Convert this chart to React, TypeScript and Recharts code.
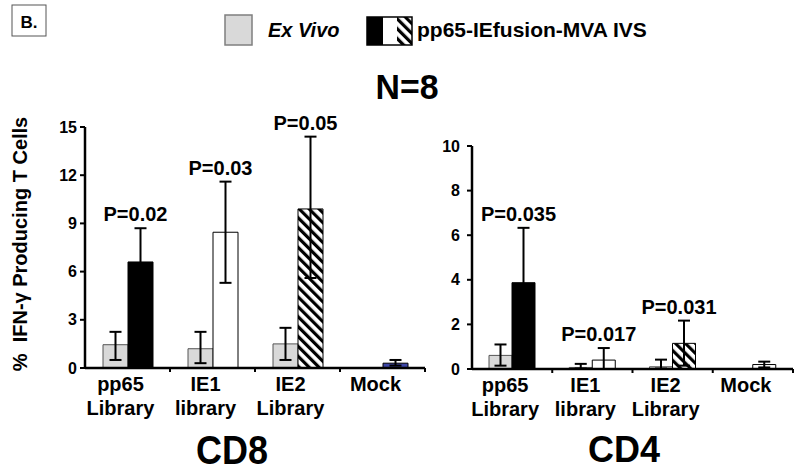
import React from 'react';
import { BarChart, Bar, XAxis, YAxis, ErrorBar, Cell, LabelList } from 'recharts';

const FONT = '"Liberation Sans", Arial, Helvetica, sans-serif';

// categories (two-line tick labels)
const catTop = ['pp65', 'IE1', 'IE2', 'Mock'];
const catBottom = ['Library', 'library', 'Library', ''];

// CD8 panel
const cd8ExVivo = [1.45, 1.2, 1.5, 0];
const cd8ExVivoLow = [0.5, 0.3, 0.5, 0];
const cd8ExVivoHigh = [2.25, 2.25, 2.5, 0];
const cd8Ivs = [6.6, 8.45, 9.9, 0.3];
const cd8IvsLow = [4.5, 5.3, 5.6, 0.15];
const cd8IvsHigh = [8.7, 11.6, 14.4, 0.5];
const cd8P = ['P=0.02', 'P=0.03', 'P=0.05', ''];
const cd8Ticks = [0, 3, 6, 9, 12, 15];

// CD4 panel
const cd4ExVivo = [0.61, 0.07, 0.1, 0];
const cd4ExVivoLow = [0.15, 0.02, 0.02, 0];
const cd4ExVivoHigh = [1.1, 0.23, 0.42, 0];
const cd4Ivs = [3.87, 0.4, 1.15, 0.2];
const cd4IvsLow = [1.4, 0, 0.15, 0.07];
const cd4IvsHigh = [6.33, 0.94, 2.17, 0.33];
const cd4P = ['P=0.035', 'P=0.017', 'P=0.031', ''];
const cd4Ticks = [0, 2, 4, 6, 8, 10];

const EX_FILL = '#d9d9d9';
const cd8IvsFills = ['#000000', '#ffffff', 'url(#hatch)', '#3d46a6'];
const cd4IvsFills = ['#000000', '#ffffff', 'url(#hatch)', '#ffffff'];

function buildRows(ex: number[], exLo: number[], exHi: number[], ivs: number[], ivLo: number[], ivHi: number[], p: string[]) {
    return catTop.map((c, i) => ({
        name: c,
        sub: catBottom[i],
        ex: ex[i],
        exErr: [ex[i] - exLo[i], exHi[i] - ex[i]],
        ivs: ivs[i],
        ivsErr: [ivs[i] - ivLo[i], ivHi[i] - ivs[i]],
        high: ivHi[i],
        p: p[i],
    }));
}

const cd8Rows = buildRows(cd8ExVivo, cd8ExVivoLow, cd8ExVivoHigh, cd8Ivs, cd8IvsLow, cd8IvsHigh, cd8P);
const cd4Rows = buildRows(cd4ExVivo, cd4ExVivoLow, cd4ExVivoHigh, cd4Ivs, cd4IvsLow, cd4IvsHigh, cd4P);

// two-line category label plus the small excel-style mark at the band's right edge
const CatTick = (props: any) => {
    const { x, y, payload, index, width, visibleTicksCount } = props;
    const sub = catBottom[index] ?? '';
    const half = width && visibleTicksCount ? width / visibleTicksCount / 2 : 0;
    const axisY = y - 8;
    return (
        <g>
            {half > 0 && <line x1={x + half} x2={x + half} y1={axisY} y2={axisY + 4} stroke="#000" strokeWidth={2} />}
            <text x={x - 7} y={y} textAnchor="middle" fontFamily={FONT} fontWeight="bold" fontSize={20} fill="#000">
                <tspan x={x - 7} dy={15}>{payload.value}</tspan>
                {sub && <tspan x={x - 7} dy={24}>{sub}</tspan>}
            </text>
        </g>
    );
};

// P value sits a few px above the top of the IVS error bar
const makePLabel = (rows: any[]) => (props: any) => {
    const vb = props.viewBox || props;
    const x = vb.x ?? props.x;
    const y = vb.y ?? props.y;
    const w = vb.width ?? props.width;
    const h = vb.height ?? props.height;
    const row = rows[props.index];
    if (!row || !row.p || !row.ivs) return null;
    const base = y + h;
    const top = base - row.high * (h / row.ivs);
    return (
        <text x={x + w / 2 - 5} y={top - 7} textAnchor="middle" fontFamily={FONT} fontWeight="bold" fontSize={20} fill="#000">
            {row.p}
        </text>
    );
};

const axisTick = { fill: '#000', fontSize: 16, fontWeight: 'bold', fontFamily: FONT } as any;

function Panel({ rows, ticks, max, fills, width, height, margin, yWidth, tickMargin, barSize }: any) {
    return (
        <BarChart width={width} height={height} data={rows} margin={margin} barGap={0} barSize={barSize}>
            <XAxis dataKey="name" tick={<CatTick />} tickLine={false} height={60} interval={0}
                axisLine={{ stroke: '#000', strokeWidth: 2.5 }} />
            <YAxis domain={[0, max]} ticks={ticks} width={yWidth} tick={axisTick} tickSize={5} tickMargin={tickMargin}
                axisLine={{ stroke: '#000', strokeWidth: 2.5 }} tickLine={{ stroke: '#000', strokeWidth: 2 }} />
            <Bar dataKey="ex" fill={EX_FILL} stroke="#555" strokeWidth={1} isAnimationActive={false}>
                <ErrorBar dataKey="exErr" width={6} stroke="#000" strokeWidth={2} />
            </Bar>
            <Bar dataKey="ivs" stroke="#000" strokeWidth={1} isAnimationActive={false}>
                {rows.map((r: any, i: number) => <Cell key={r.name} fill={fills[i]} />)}
                <ErrorBar dataKey="ivsErr" width={6} stroke="#000" strokeWidth={2} />
                <LabelList dataKey="p" content={makePLabel(rows)} />
            </Bar>
        </BarChart>
    );
}

export default function App() {
    return (
        <div style={{ position: 'absolute', left: 0, top: 0, width: 800, height: 474, background: '#fff', overflow: 'hidden' }}>
            <svg width={0} height={0} style={{ position: 'absolute' }}>
                <defs>
                    <pattern id="hatch" width="7" height="7" patternUnits="userSpaceOnUse" patternTransform="rotate(-45)">
                        <rect width="7" height="7" fill="#fff" />
                        <rect width="3.2" height="7" fill="#000" />
                    </pattern>
                </defs>
            </svg>

            <svg width={800} height={474} style={{ position: 'absolute', left: 0, top: 0 }}>
                {/* panel tag */}
                <rect x={12} y={5} width={34} height={31} fill="#fff" stroke="#555" strokeWidth={1} />
                <text x={29} y={28} textAnchor="middle" fontFamily={FONT} fontWeight="bold" fontSize={17}>B.</text>

                {/* legend */}
                <rect x={225} y={15} width={27} height={30} fill={EX_FILL} stroke="#7f7f7f" strokeWidth={1.5} />
                <text x={268} y={37} fontFamily={FONT} fontWeight="bold" fontStyle="italic" fontSize={20}>Ex Vivo</text>
                <rect x={367} y={17} width={16} height={28} fill="#000" />
                <rect x={383} y={17} width={14} height={28} fill="#fff" />
                <rect x={397} y={17} width={15} height={28} fill="url(#hatch)" />
                <rect x={367} y={17} width={45} height={28} fill="none" stroke="#000" strokeWidth={1.5} />
                <text x={417} y={37} fontFamily={FONT} fontWeight="bold" fontSize={21}>pp65-IEfusion-MVA IVS</text>

                <text x={407} y={99} textAnchor="middle" fontFamily={FONT} fontWeight="bold" fontSize={35}
                    textLength={63} lengthAdjust="spacingAndGlyphs">N=8</text>

                <text x={27} y={244} textAnchor="middle" fontFamily={FONT} fontWeight="bold" fontSize={20}
                    transform="rotate(-90 27 244)">{'%\u00A0 IFN-γ Producing T Cells'}</text>

                <text x={232} y={464} textAnchor="middle" fontFamily={FONT} fontWeight="bold" fontSize={40}
                    textLength={72} lengthAdjust="spacingAndGlyphs">CD8</text>
                <text x={624} y={462} textAnchor="middle" fontFamily={FONT} fontWeight="bold" fontSize={37}
                    textLength={72} lengthAdjust="spacingAndGlyphs">CD4</text>
            </svg>

            <div style={{ position: 'absolute', left: 0, top: 100 }}>
                <Panel rows={cd8Rows} ticks={cd8Ticks} max={15} fills={cd8IvsFills} width={430} height={374} barSize={25}
                    margin={{ top: 27, right: 5, left: 45, bottom: 46 }} yWidth={40} tickMargin={3} />
            </div>
            <div style={{ position: 'absolute', left: 420, top: 100 }}>
                <Panel rows={cd4Rows} ticks={cd4Ticks} max={10} fills={cd4IvsFills} width={380} height={374} barSize={23}
                    margin={{ top: 46, right: 7, left: 22, bottom: 45 }} yWidth={30} tickMargin={7} />
            </div>
        </div>
    );
}
